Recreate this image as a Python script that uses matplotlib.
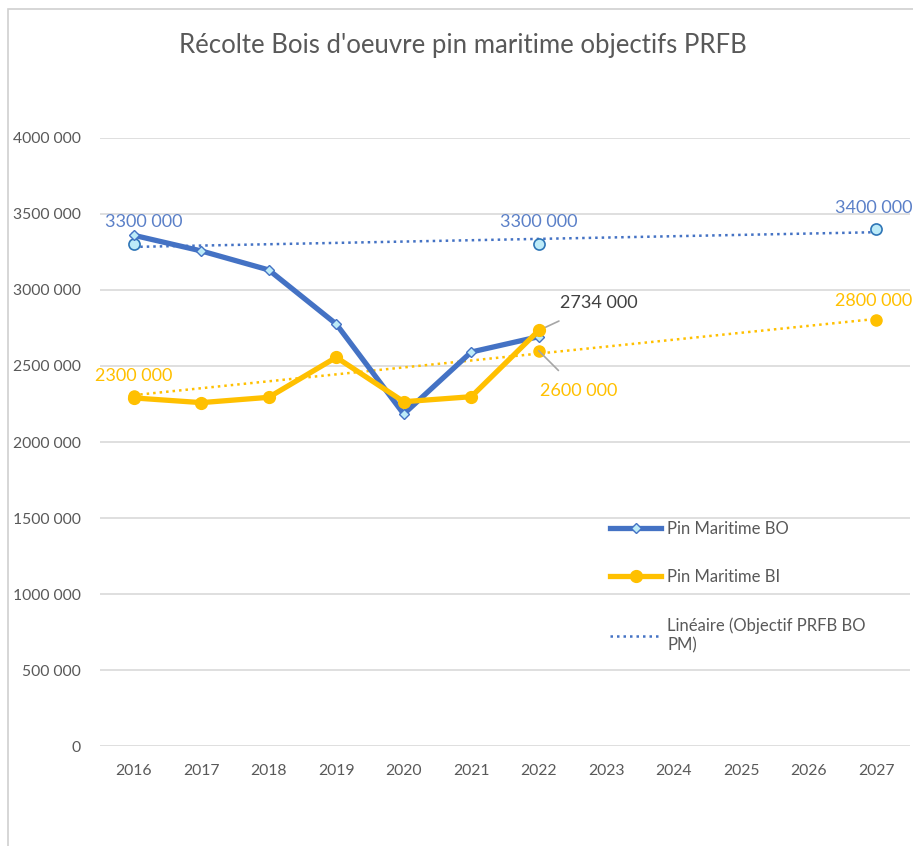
import numpy as np
import matplotlib
matplotlib.use("Agg")
import matplotlib.pyplot as plt
from matplotlib.patches import Rectangle

plt.rcParams['font.family'] = ['Lato', 'DejaVu Sans']

# data
years = ["2016", "2017", "2018", "2019", "2020", "2021", "2022",
         "2023", "2024", "2025", "2026", "2027"]
bo_years = [2016, 2017, 2018, 2019, 2020, 2021, 2022]
bo_values = [3360000, 3257000, 3132000, 2776000, 2184000, 2592000, 2693000]
bi_values = [2290000, 2259000, 2294000, 2557000, 2265000, 2298000, 2734000]
obj_years = [2016, 2022, 2027]
obj_bo = [3300000, 3300000, 3400000]
obj_bi = [2300000, 2600000, 2800000]
yticks = [0, 500000, 1000000, 1500000, 2000000, 2500000, 3000000, 3500000, 4000000]


def fmt(v):
    s = f"{v:,}".replace(",", " ")
    # the picture shows the first separator dropped ("4000 000")
    parts = s.split(" ")
    if len(parts) == 3:
        return parts[0] + parts[1] + " " + parts[2]
    return s


BLUE = "#4472C4"
GOLD = "#FFC000"
LIGHT = "#BDEBF8"
GRID = "#D9D9D9"

W, H = 913, 846
fig = plt.figure(figsize=(W / 100, H / 100), dpi=100)
fig.patches.append(Rectangle((8 / W, -0.1), 1.2, (H - 9) / H + 0.1, transform=fig.transFigure,
                             fill=False, edgecolor="#D0D0D0", linewidth=1.2))

ax = fig.add_axes([100 / W, (H - 746) / H, 810 / W, 608 / H])

xi = lambda ys: [y - 2016 for y in ys]

# trend lines of objectives
xs = np.array(xi(obj_years))
tx = np.array([0, 11])
p_bo = np.polyfit(xs, obj_bo, 1)
p_bi = np.polyfit(xs, obj_bi, 1)
h_tr, = ax.plot(tx, np.polyval(p_bo, tx), linestyle=(0, (1, 1.6)), color=BLUE, lw=1.8,
                label="Linéaire (Objectif PRFB BO\nPM)", zorder=2)
ax.plot(tx, np.polyval(p_bi, tx), linestyle=(0, (1, 1.6)), color=GOLD, lw=1.8, zorder=2)

# objective points
ax.plot(xs, obj_bo, linestyle="none", marker="o", ms=8, mfc=LIGHT, mec="#2E75B6", mew=1.2, zorder=3)
ax.plot(xs, obj_bi, linestyle="none", marker="o", ms=8, mfc=GOLD, mec=GOLD, zorder=3)

# series
h_bo, = ax.plot(xi(bo_years), bo_values, color=BLUE, lw=3.8, marker="D", ms=5.5, mfc=LIGHT, mec=BLUE,
                mew=1, label="Pin Maritime BO", zorder=4)
h_bi, = ax.plot(xi(bo_years), bi_values, color=GOLD, lw=3.8, marker="o", ms=8.5, mfc=GOLD, mec=GOLD,
                label="Pin Maritime BI", zorder=5)

# data labels
lab_blue = "#5B80C8"
fs = 13
ax.annotate(fmt(obj_bo[0]), (0, obj_bo[0]), xytext=(7, 16), textcoords="offset points",
            ha="center", va="center", color=lab_blue, fontsize=fs)
ax.annotate(fmt(obj_bo[1]), (6, obj_bo[1]), xytext=(0, 16), textcoords="offset points",
            ha="center", va="center", color=lab_blue, fontsize=fs)
ax.annotate(fmt(obj_bo[2]), (11, obj_bo[2]), xytext=(-2, 15), textcoords="offset points",
            ha="center", va="center", color=lab_blue, fontsize=fs)
ax.annotate(fmt(obj_bi[0]), (0, obj_bi[0]), xytext=(0, 15), textcoords="offset points",
            ha="center", va="center", color=GOLD, fontsize=fs)
ax.annotate(fmt(obj_bi[2]), (11, obj_bi[2]), xytext=(-2, 14), textcoords="offset points",
            ha="center", va="center", color=GOLD, fontsize=fs)
ax.annotate(fmt(bi_values[-1]), (6, bi_values[-1]), xytext=(43, 20), textcoords="offset points",
            ha="center", va="center", color="#404040", fontsize=fs,
            arrowprops=dict(arrowstyle="-", color="#A6A6A6", lw=1.2, shrinkA=13, shrinkB=0))
ax.annotate(fmt(obj_bi[1]), (6, obj_bi[1]), xytext=(29, -29), textcoords="offset points",
            ha="center", va="center", color=GOLD, fontsize=fs,
            arrowprops=dict(arrowstyle="-", color="#A6A6A6", lw=1.2, shrinkA=10, shrinkB=0))

ax.set_xlim(-0.5, 11.5)
ax.set_ylim(0, 4000000)
ax.set_xticks(range(len(years)))
ax.set_xticklabels(years)
ax.set_yticks(yticks)
ax.set_yticklabels([fmt(v) for v in yticks])
ax.tick_params(length=0, labelsize=11.3, colors="#595959")
ax.tick_params(axis="y", pad=14)
ax.tick_params(axis="x", pad=13)
ax.grid(axis="y", color=GRID, lw=1.2)
ax.set_axisbelow(True)
for s in ax.spines.values():
    s.set_visible(False)

ax.legend([h_bo, h_bi, h_tr], [h_bo.get_label(), h_bi.get_label(), h_tr.get_label()],
          loc="upper left", bbox_to_anchor=(603 / W, (H - 514) / H), bbox_transform=fig.transFigure,
          frameon=False, fontsize=12, labelcolor="#595959", handlelength=3.1, handletextpad=0.35,
          labelspacing=1.95, borderaxespad=0)

fig.text(463 / W, (H - 45) / H, "Récolte Bois d'oeuvre pin maritime objectifs PRFB",
         ha="center", va="center", fontsize=18.5, color="#595959")

fig.savefig("out.png", dpi=100, facecolor="white")
